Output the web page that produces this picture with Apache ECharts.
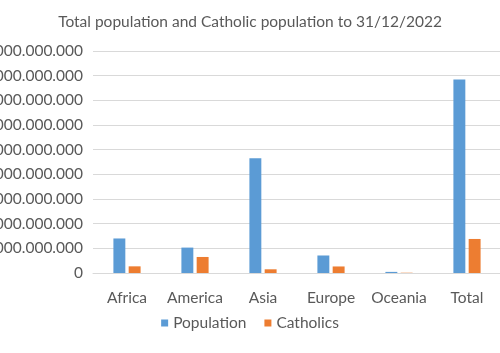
<!DOCTYPE html>
<html>
<head>
<meta charset="utf-8">
<script src="https://cdn.jsdelivr.net/npm/echarts@6/dist/echarts.min.js"></script>
<style>
  html, body { margin: 0; padding: 0; background: #fff; }
  #chart { width: 500px; height: 353px; }
</style>
</head>
<body>
<div id="chart"></div>
<script>
const categories = ['Africa', 'America', 'Asia', 'Europe', 'Oceania', 'Total']
const population = [1400000000, 1030000000, 4650000000, 710000000, 45000000, 7840000000]
const catholics = [270000000, 650000000, 150000000, 265000000, 11000000, 1380000000]

const FONT = 'Lato, "Noto Sans", sans-serif'
const TEXT = '#595959'

const fmt = v => String(v).replace(/\B(?=(\d{3})+(?!\d))/g, '.')

const chart = echarts.init(document.getElementById('chart'))

chart.setOption({
  animation: false,
  title: {
    text: 'Total population and Catholic population to 31/12/2022',
    left: 'center',
    top: 9,
    textStyle: { fontFamily: FONT, fontSize: 15.5, fontWeight: 'normal', color: TEXT }
  },
  legend: {
    bottom: 17,
    left: 'center',
    itemWidth: 7,
    itemHeight: 7,
    itemGap: 18,
    textStyle: { fontFamily: FONT, fontSize: 15.5, color: TEXT },
    data: [
      { name: 'Population', icon: 'rect' },
      { name: 'Catholics', icon: 'rect' }
    ]
  },
  grid: {
    left: 93,
    right: -1,
    top: 51,
    bottom: 80,
    containLabel: false,
    outerBoundsMode: 'none'
  },
  xAxis: {
    type: 'category',
    data: categories,
    axisLine: { lineStyle: { color: '#D9D9D9' } },
    axisTick: { show: false },
    axisLabel: { fontFamily: FONT, fontSize: 15.5, color: TEXT, margin: 17, interval: 0 }
  },
  yAxis: {
    type: 'value',
    min: 0,
    max: 9000000000,
    interval: 1000000000,
    axisLine: { show: false },
    axisTick: { show: false },
    splitLine: { lineStyle: { color: '#D9D9D9' } },
    axisLabel: { fontFamily: FONT, fontSize: 15.5, color: TEXT, margin: 10, formatter: fmt }
  },
  series: [
    {
      name: 'Population',
      type: 'bar',
      data: population,
      barGap: '28%',
      barCategoryGap: '60%',
      itemStyle: { color: '#5B9BD5' }
    },
    {
      name: 'Catholics',
      type: 'bar',
      data: catholics,
      itemStyle: { color: '#ED7D31' }
    }
  ]
})
</script>
</body>
</html>
